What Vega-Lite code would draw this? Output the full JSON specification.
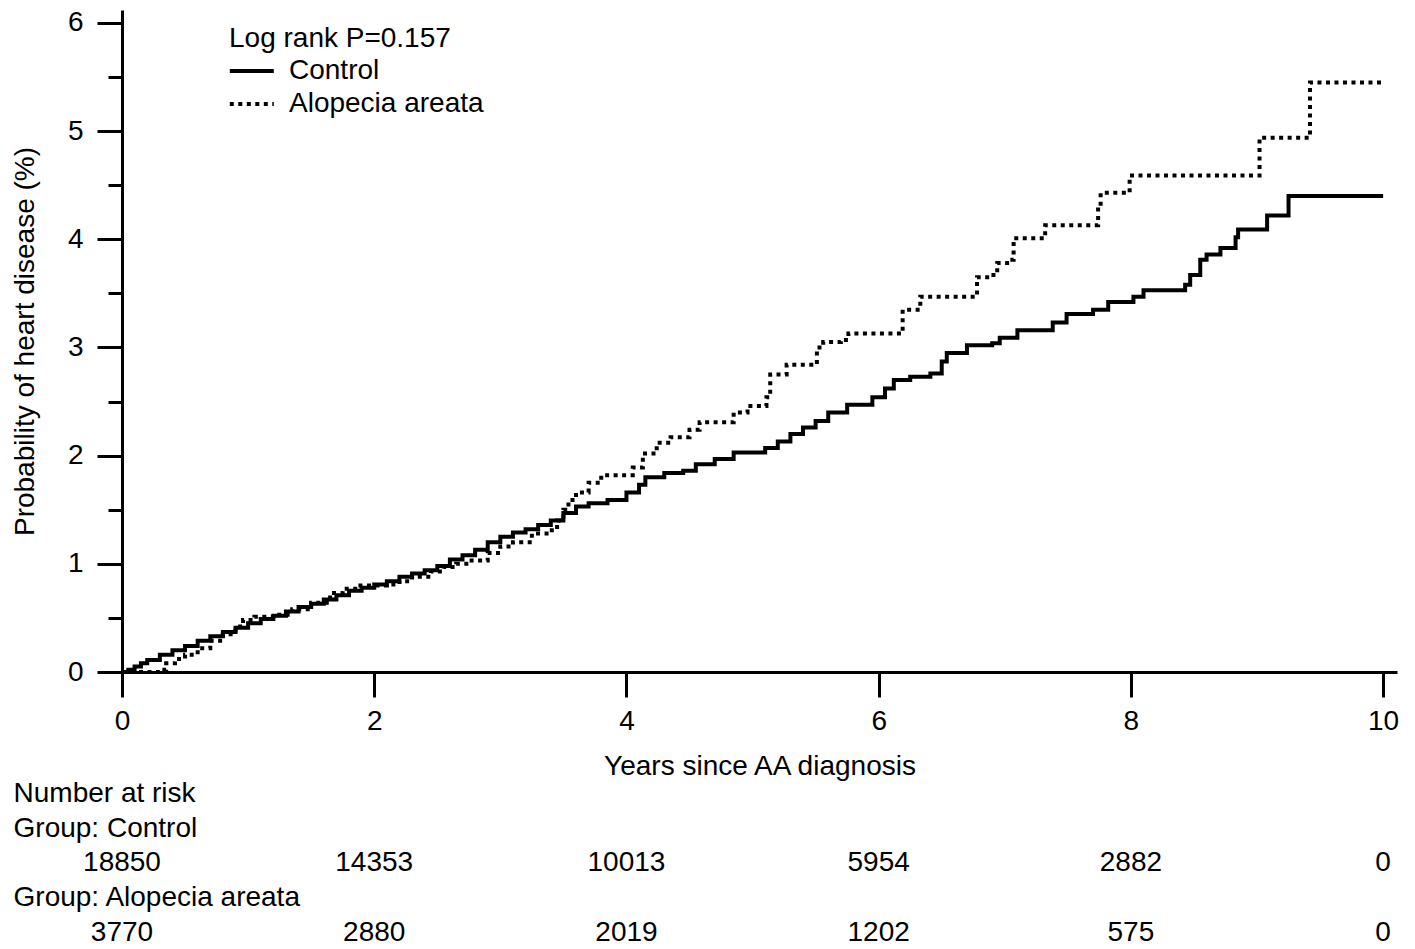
{
  "$schema": "https://vega.github.io/schema/vega-lite/v6.json",
  "width": 1275,
  "height": 662,
  "autosize": "none",
  "padding": {"left": 122, "top": 10, "right": 18, "bottom": 277},
  "background": "white",
  "config": {
    "font": "Liberation Sans",
    "view": {"stroke": null},
    "axis": {
      "domainColor": "black",
      "domainWidth": 3,
      "tickColor": "black",
      "tickWidth": 3,
      "labelColor": "black",
      "labelFontSize": 28,
      "titleColor": "black",
      "titleFontSize": 28,
      "titleFontWeight": "normal",
      "grid": false
    }
  },
  "datasets": {
    "curves": [
      {"group": "Control", "t": 0, "p": 0},
      {"group": "Control", "t": 0.05, "p": 0.02},
      {"group": "Control", "t": 0.1, "p": 0.05},
      {"group": "Control", "t": 0.15, "p": 0.08},
      {"group": "Control", "t": 0.2, "p": 0.11},
      {"group": "Control", "t": 0.3, "p": 0.16},
      {"group": "Control", "t": 0.4, "p": 0.2},
      {"group": "Control", "t": 0.5, "p": 0.24},
      {"group": "Control", "t": 0.6, "p": 0.29},
      {"group": "Control", "t": 0.7, "p": 0.33},
      {"group": "Control", "t": 0.8, "p": 0.37},
      {"group": "Control", "t": 0.9, "p": 0.41},
      {"group": "Control", "t": 1.0, "p": 0.45},
      {"group": "Control", "t": 1.1, "p": 0.49},
      {"group": "Control", "t": 1.2, "p": 0.52},
      {"group": "Control", "t": 1.3, "p": 0.56},
      {"group": "Control", "t": 1.4, "p": 0.6},
      {"group": "Control", "t": 1.5, "p": 0.63},
      {"group": "Control", "t": 1.6, "p": 0.67},
      {"group": "Control", "t": 1.7, "p": 0.71},
      {"group": "Control", "t": 1.8, "p": 0.75},
      {"group": "Control", "t": 1.9, "p": 0.78},
      {"group": "Control", "t": 2.0, "p": 0.81},
      {"group": "Control", "t": 2.1, "p": 0.84},
      {"group": "Control", "t": 2.2, "p": 0.88},
      {"group": "Control", "t": 2.3, "p": 0.91},
      {"group": "Control", "t": 2.4, "p": 0.94},
      {"group": "Control", "t": 2.5, "p": 0.98},
      {"group": "Control", "t": 2.6, "p": 1.04},
      {"group": "Control", "t": 2.7, "p": 1.08},
      {"group": "Control", "t": 2.8, "p": 1.13},
      {"group": "Control", "t": 2.9, "p": 1.2},
      {"group": "Control", "t": 3.0, "p": 1.25},
      {"group": "Control", "t": 3.1, "p": 1.29},
      {"group": "Control", "t": 3.2, "p": 1.32},
      {"group": "Control", "t": 3.3, "p": 1.36},
      {"group": "Control", "t": 3.4, "p": 1.4},
      {"group": "Control", "t": 3.5, "p": 1.47},
      {"group": "Control", "t": 3.6, "p": 1.53},
      {"group": "Control", "t": 3.7, "p": 1.56},
      {"group": "Control", "t": 3.85, "p": 1.59},
      {"group": "Control", "t": 4.0, "p": 1.66},
      {"group": "Control", "t": 4.1, "p": 1.73},
      {"group": "Control", "t": 4.15, "p": 1.8},
      {"group": "Control", "t": 4.3, "p": 1.84},
      {"group": "Control", "t": 4.45, "p": 1.86},
      {"group": "Control", "t": 4.55, "p": 1.92},
      {"group": "Control", "t": 4.7, "p": 1.97},
      {"group": "Control", "t": 4.85, "p": 2.03},
      {"group": "Control", "t": 5.1, "p": 2.07},
      {"group": "Control", "t": 5.2, "p": 2.13},
      {"group": "Control", "t": 5.3, "p": 2.2},
      {"group": "Control", "t": 5.4, "p": 2.26},
      {"group": "Control", "t": 5.5, "p": 2.32},
      {"group": "Control", "t": 5.6, "p": 2.4},
      {"group": "Control", "t": 5.75, "p": 2.47},
      {"group": "Control", "t": 5.95, "p": 2.54},
      {"group": "Control", "t": 6.05, "p": 2.62},
      {"group": "Control", "t": 6.12, "p": 2.7},
      {"group": "Control", "t": 6.25, "p": 2.73},
      {"group": "Control", "t": 6.41, "p": 2.76},
      {"group": "Control", "t": 6.5, "p": 2.87},
      {"group": "Control", "t": 6.54, "p": 2.95},
      {"group": "Control", "t": 6.7, "p": 3.02},
      {"group": "Control", "t": 6.9, "p": 3.04},
      {"group": "Control", "t": 6.96, "p": 3.09},
      {"group": "Control", "t": 7.1, "p": 3.16},
      {"group": "Control", "t": 7.38, "p": 3.23},
      {"group": "Control", "t": 7.49, "p": 3.31},
      {"group": "Control", "t": 7.7, "p": 3.35},
      {"group": "Control", "t": 7.82, "p": 3.42},
      {"group": "Control", "t": 8.02, "p": 3.47},
      {"group": "Control", "t": 8.1, "p": 3.53},
      {"group": "Control", "t": 8.43, "p": 3.58},
      {"group": "Control", "t": 8.47, "p": 3.67},
      {"group": "Control", "t": 8.55, "p": 3.81},
      {"group": "Control", "t": 8.6, "p": 3.86},
      {"group": "Control", "t": 8.71, "p": 3.92},
      {"group": "Control", "t": 8.83, "p": 4.02},
      {"group": "Control", "t": 8.85, "p": 4.09},
      {"group": "Control", "t": 9.08, "p": 4.22},
      {"group": "Control", "t": 9.25, "p": 4.4},
      {"group": "Control", "t": 10.0, "p": 4.4},
      {"group": "Alopecia areata", "t": 0, "p": 0},
      {"group": "Alopecia areata", "t": 0.3, "p": 0.02},
      {"group": "Alopecia areata", "t": 0.35, "p": 0.08},
      {"group": "Alopecia areata", "t": 0.42, "p": 0.12},
      {"group": "Alopecia areata", "t": 0.5, "p": 0.16},
      {"group": "Alopecia areata", "t": 0.6, "p": 0.22},
      {"group": "Alopecia areata", "t": 0.7, "p": 0.29},
      {"group": "Alopecia areata", "t": 0.8, "p": 0.35},
      {"group": "Alopecia areata", "t": 0.9, "p": 0.42},
      {"group": "Alopecia areata", "t": 0.96, "p": 0.48},
      {"group": "Alopecia areata", "t": 1.05, "p": 0.51},
      {"group": "Alopecia areata", "t": 1.2, "p": 0.53},
      {"group": "Alopecia areata", "t": 1.35, "p": 0.58},
      {"group": "Alopecia areata", "t": 1.5, "p": 0.64},
      {"group": "Alopecia areata", "t": 1.65, "p": 0.73},
      {"group": "Alopecia areata", "t": 1.75, "p": 0.77},
      {"group": "Alopecia areata", "t": 1.87, "p": 0.8},
      {"group": "Alopecia areata", "t": 2.1, "p": 0.81},
      {"group": "Alopecia areata", "t": 2.2, "p": 0.84},
      {"group": "Alopecia areata", "t": 2.3, "p": 0.88},
      {"group": "Alopecia areata", "t": 2.45, "p": 0.93},
      {"group": "Alopecia areata", "t": 2.55, "p": 0.97},
      {"group": "Alopecia areata", "t": 2.65, "p": 1.0},
      {"group": "Alopecia areata", "t": 2.75, "p": 1.03},
      {"group": "Alopecia areata", "t": 2.9, "p": 1.1},
      {"group": "Alopecia areata", "t": 3.0, "p": 1.16},
      {"group": "Alopecia areata", "t": 3.1, "p": 1.2},
      {"group": "Alopecia areata", "t": 3.25, "p": 1.28},
      {"group": "Alopecia areata", "t": 3.39, "p": 1.31},
      {"group": "Alopecia areata", "t": 3.45, "p": 1.4},
      {"group": "Alopecia areata", "t": 3.5, "p": 1.5},
      {"group": "Alopecia areata", "t": 3.54, "p": 1.59},
      {"group": "Alopecia areata", "t": 3.6, "p": 1.66},
      {"group": "Alopecia areata", "t": 3.7, "p": 1.75},
      {"group": "Alopecia areata", "t": 3.8, "p": 1.82},
      {"group": "Alopecia areata", "t": 4.05, "p": 1.89},
      {"group": "Alopecia areata", "t": 4.13, "p": 2.02},
      {"group": "Alopecia areata", "t": 4.24, "p": 2.12},
      {"group": "Alopecia areata", "t": 4.35, "p": 2.17},
      {"group": "Alopecia areata", "t": 4.5, "p": 2.24},
      {"group": "Alopecia areata", "t": 4.58, "p": 2.31},
      {"group": "Alopecia areata", "t": 4.85, "p": 2.4},
      {"group": "Alopecia areata", "t": 4.96, "p": 2.46},
      {"group": "Alopecia areata", "t": 5.11, "p": 2.54},
      {"group": "Alopecia areata", "t": 5.14, "p": 2.75},
      {"group": "Alopecia areata", "t": 5.27, "p": 2.84},
      {"group": "Alopecia areata", "t": 5.51, "p": 3.0},
      {"group": "Alopecia areata", "t": 5.56, "p": 3.05},
      {"group": "Alopecia areata", "t": 5.7, "p": 3.07},
      {"group": "Alopecia areata", "t": 5.76, "p": 3.13},
      {"group": "Alopecia areata", "t": 6.19, "p": 3.35},
      {"group": "Alopecia areata", "t": 6.33, "p": 3.47},
      {"group": "Alopecia areata", "t": 6.78, "p": 3.65},
      {"group": "Alopecia areata", "t": 6.91, "p": 3.69},
      {"group": "Alopecia areata", "t": 6.94, "p": 3.78},
      {"group": "Alopecia areata", "t": 7.04, "p": 3.81},
      {"group": "Alopecia areata", "t": 7.07, "p": 4.01},
      {"group": "Alopecia areata", "t": 7.32, "p": 4.13},
      {"group": "Alopecia areata", "t": 7.74, "p": 4.3},
      {"group": "Alopecia areata", "t": 7.76, "p": 4.43},
      {"group": "Alopecia areata", "t": 7.99, "p": 4.59},
      {"group": "Alopecia areata", "t": 9.02, "p": 4.94},
      {"group": "Alopecia areata", "t": 9.42, "p": 5.45},
      {"group": "Alopecia areata", "t": 10.0, "p": 5.45}
    ],
    "riskHeaders": [
      {"t": -0.86, "p": -1.128, "label": "Number at risk"},
      {"t": -0.86, "p": -1.451, "label": "Group: Control"},
      {"t": -0.86, "p": -2.089, "label": "Group: Alopecia areata"}
    ],
    "riskNumbers": [
      {"t": 0, "p": -1.766, "label": "18850"},
      {"t": 2, "p": -1.766, "label": "14353"},
      {"t": 4, "p": -1.766, "label": "10013"},
      {"t": 6, "p": -1.766, "label": "5954"},
      {"t": 8, "p": -1.766, "label": "2882"},
      {"t": 10, "p": -1.766, "label": "0"},
      {"t": 0, "p": -2.413, "label": "3770"},
      {"t": 2, "p": -2.413, "label": "2880"},
      {"t": 4, "p": -2.413, "label": "2019"},
      {"t": 6, "p": -2.413, "label": "1202"},
      {"t": 8, "p": -2.413, "label": "575"},
      {"t": 10, "p": -2.413, "label": "0"}
    ]
  },
  "layer": [
    {
      "data": {"name": "curves"},
      "mark": {"type": "line", "interpolate": "step-after", "strokeWidth": 4, "strokeCap": "butt", "color": "black"},
      "encoding": {
        "x": {
          "field": "t", "type": "quantitative", "title": "Years since AA diagnosis",
          "scale": {"domain": [0, 10.11], "nice": false, "zero": false},
          "axis": {"values": [0, 2, 4, 6, 8, 10], "format": "d", "tickSize": 25, "labelPadding": 10, "titlePadding": 17, "labelFlush": false}
        },
        "y": {
          "field": "p", "type": "quantitative", "title": "Probability of heart disease (%)",
          "scale": {"domain": [0, 6.12], "nice": false, "zero": false},
          "axis": {
            "values": [0, 0.5, 1, 1.5, 2, 2.5, 3, 3.5, 4, 4.5, 5, 5.5, 6],
            "labelExpr": "datum.value % 1 === 0 ? format(datum.value, 'd') : ''",
            "tickSize": {"condition": {"test": "datum.value % 1 === 0", "value": 25}, "value": 14},
            "labelPadding": 14,
            "titlePadding": 28,
            "labelFlush": false
          }
        },
        "strokeDash": {
          "field": "group", "type": "nominal",
          "scale": {"domain": ["Control", "Alopecia areata"], "range": [[1, 0], [4, 4.5]]},
          "legend": {
            "title": "Log rank P=0.157",
            "orient": "none", "legendX": 107, "legendY": 15,
            "titleFontSize": 28, "titleFontWeight": "normal", "titleColor": "black", "titlePadding": 4, "titleLimit": 0,
            "labelFontSize": 28, "labelColor": "black", "labelOffset": 32, "labelLimit": 0,
            "symbolType": "M-1.2,0H2.8", "symbolStrokeWidth": 4, "symbolSize": 484, "symbolStrokeColor": "black", "symbolFillColor": "transparent",
            "rowPadding": 5, "padding": 0
          }
        }
      }
    },
    {
      "data": {"name": "riskHeaders"},
      "mark": {"type": "text", "fontSize": 28, "align": "left", "baseline": "middle", "color": "black"},
      "encoding": {
        "x": {"field": "t", "type": "quantitative", "title": "Years since AA diagnosis", "scale": {"domain": [0, 10.11], "nice": false, "zero": false}},
        "y": {"field": "p", "type": "quantitative", "title": "Probability of heart disease (%)", "scale": {"domain": [0, 6.12], "nice": false, "zero": false}},
        "text": {"field": "label"}
      }
    },
    {
      "data": {"name": "riskNumbers"},
      "mark": {"type": "text", "fontSize": 28, "align": "center", "baseline": "middle", "color": "black"},
      "encoding": {
        "x": {"field": "t", "type": "quantitative", "title": "Years since AA diagnosis", "scale": {"domain": [0, 10.11], "nice": false, "zero": false}},
        "y": {"field": "p", "type": "quantitative", "title": "Probability of heart disease (%)", "scale": {"domain": [0, 6.12], "nice": false, "zero": false}},
        "text": {"field": "label"}
      }
    }
  ]
}
